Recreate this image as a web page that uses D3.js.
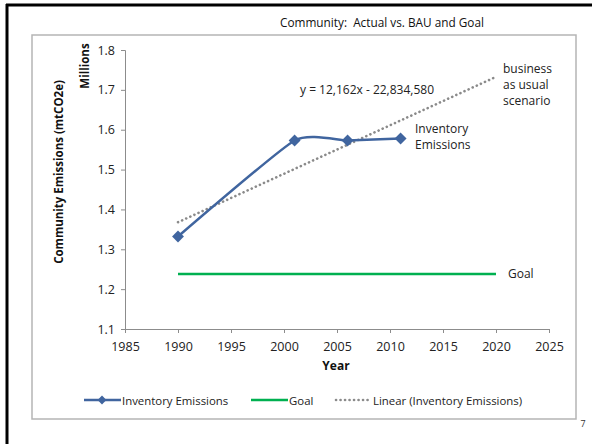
<!DOCTYPE html>
<html><head><meta charset="utf-8">
<script src="https://cdn.jsdelivr.net/npm/d3@7"></script>
<style>body{margin:0;background:#fff}svg{display:block}text{font-family:"Open Sans","Noto Sans",sans-serif}</style>
</head><body>
<svg id="c" width="592" height="444"></svg>
<script>
const years = [1990, 2001, 2006, 2011];
const inventory = [1.332, 1.573, 1.573, 1.578];
const goalYears = [1990, 2020];
const goalValues = [1.238, 1.238];
const trendSlope = 12162;
const trendIntercept = -22834580;
const trendYears = [1990, 2020];
const xTicks = [1985, 1990, 1995, 2000, 2005, 2010, 2015, 2020, 2025];
const yTicks = [1.1, 1.2, 1.3, 1.4, 1.5, 1.6, 1.7, 1.8];

const svg = d3.select("#c");
const x = d3.scaleLinear().domain([1985, 2025]).range([125, 549]);
const y = d3.scaleLinear().domain([1.1, 1.8]).range([329, 50]);
const blue = "#40659f", green = "#00b050", gray = "#8a8a8a";

// slide frame
svg.append("line").attr("x1",7).attr("x2",7).attr("y1",4).attr("y2",444).attr("stroke","#000").attr("stroke-width",3);
svg.append("line").attr("x1",6).attr("x2",592).attr("y1",5).attr("y2",5).attr("stroke","#000").attr("stroke-width",3);
svg.append("text").attr("x",583).attr("y",427).attr("font-size",9).attr("fill","#333").attr("text-anchor","middle").text("7");

// chart frame
svg.append("rect").attr("x",32).attr("y",35).attr("width",544).attr("height",384).attr("fill","#fff").attr("stroke","#b5b5b5").attr("stroke-width",1.5);

svg.append("text").attr("x",484).attr("y",27).attr("text-anchor","end").attr("font-size",11.8).attr("fill","#111").attr("xml:space","preserve").text("Community:  Actual vs. BAU and Goal");

// axes
const ax = svg.append("g").attr("transform","translate(0,329)")
  .call(d3.axisBottom(x).tickValues(xTicks).tickFormat(d3.format("d")).tickSize(4).tickPadding(9));
const ay = svg.append("g").attr("transform","translate(125,0)")
  .call(d3.axisLeft(y).tickValues(yTicks).tickFormat(d3.format(".1f")).tickSize(4).tickPadding(6));
[ax, ay].forEach(g => {
  g.select(".domain").attr("stroke","#8c8c8c");
  g.selectAll(".tick line").attr("stroke","#8c8c8c");
  g.selectAll(".tick text").attr("font-size",12.5).attr("fill","#222").attr("font-family","Open Sans, sans-serif");
});

svg.append("text").attr("x",336).attr("y",370).attr("text-anchor","middle").attr("font-size",12).attr("font-weight","bold").attr("fill","#111").text("Year");
svg.append("text").attr("transform","translate(63,172) rotate(-90)").attr("text-anchor","middle").attr("font-size",11.5).attr("font-weight","bold").attr("fill","#111").text("Community Emissions (mtCO2e)");
svg.append("text").attr("transform","translate(89,66) rotate(-90)").attr("text-anchor","middle").attr("font-size",11.5).attr("font-weight","bold").attr("fill","#111").text("Millions");

// goal
svg.append("line").attr("x1",x(goalYears[0])).attr("x2",x(goalYears[1])).attr("y1",y(goalValues[0])).attr("y2",y(goalValues[1])).attr("stroke",green).attr("stroke-width",2.5);

// trend
const trend = trendYears.map(t => [t, (trendSlope*t + trendIntercept)/1e6]);
svg.append("path").attr("d", d3.line().x(d=>x(d[0])).y(d=>y(d[1]))(trend)).attr("fill","none").attr("stroke",gray).attr("stroke-width",2.6).attr("stroke-linecap","round").attr("stroke-dasharray","0.1 4.4");

// inventory
const pts = years.map((t,i)=>[t, inventory[i]]);
svg.append("path").attr("d", d3.line().x(d=>x(d[0])).y(d=>y(d[1])).curve(d3.curveCardinal.tension(0.5))(pts)).attr("fill","none").attr("stroke",blue).attr("stroke-width",2.5);
const diamond = d3.symbol().type(d3.symbolDiamond2).size(90);
svg.selectAll(".mk").data(pts).enter().append("path").attr("d",diamond).attr("transform",d=>`translate(${x(d[0])},${y(d[1])})`).attr("fill",blue);

// annotations
const ann = (tx,ty,lines,anchor) => { const t = svg.append("text").attr("x",tx).attr("y",ty).attr("font-size",12).attr("fill","#222").attr("text-anchor",anchor||"start");
  lines.forEach((l,i)=>t.append("tspan").attr("x",tx).attr("dy",i?16:0).text(l)); };
ann(300,94,["y = 12,162x - 22,834,580"]);
ann(503,73,["business","as usual","scenario"]);
ann(415,133,["Inventory","Emissions"]);
ann(508,278,["Goal"]);

// legend
const ly = 400;
svg.append("line").attr("x1",84).attr("x2",121).attr("y1",ly).attr("y2",ly).attr("stroke",blue).attr("stroke-width",2.5);
svg.append("path").attr("d",d3.symbol().type(d3.symbolDiamond2).size(50)).attr("transform",`translate(102,${ly})`).attr("fill",blue);
svg.append("text").attr("x",122).attr("y",ly+4.5).attr("font-size",11.4).attr("fill","#222").text("Inventory Emissions");
svg.append("line").attr("x1",251).attr("x2",288).attr("y1",ly).attr("y2",ly).attr("stroke",green).attr("stroke-width",2.5);
svg.append("text").attr("x",289).attr("y",ly+4.5).attr("font-size",11.4).attr("fill","#222").text("Goal");
svg.append("line").attr("x1",336).attr("x2",370).attr("y1",ly).attr("y2",ly).attr("stroke",gray).attr("stroke-width",2.6).attr("stroke-linecap","round").attr("stroke-dasharray","0.1 4.4");
svg.append("text").attr("x",373).attr("y",ly+4.5).attr("font-size",11.4).attr("fill","#222").text("Linear (Inventory Emissions)");
</script>
</body></html>
